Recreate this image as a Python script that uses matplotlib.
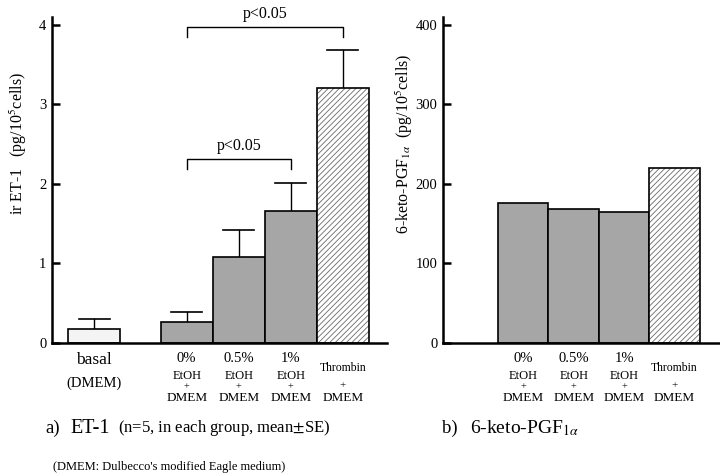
import matplotlib
matplotlib.use("Agg")
import matplotlib.pyplot as plt

plt.rcParams['font.family'] = ['Liberation Serif', 'DejaVu Serif']
plt.rcParams['mathtext.fontset'] = 'stix'
plt.rcParams['hatch.linewidth'] = 0.6

# Data
et1_groups = ["basal", "0%", "0.5%", "1%", "Thrombin"]
et1_mean = [0.18, 0.27, 1.08, 1.66, 3.21]
et1_se = [0.12, 0.12, 0.34, 0.35, 0.48]
pgf_groups = ["0%", "0.5%", "1%", "Thrombin"]
pgf_mean = [176, 168, 165, 220]

et1_pos = [0.81, 2.59, 3.59, 4.59, 5.59]
pgf_pos = [1.59, 2.59, 3.59, 4.59]

W, H = 720, 473
fig = plt.figure(figsize=(7.2, 4.73), dpi=100)

def ax_rect(x0, x1, ytop, ybot):
    return [x0 / W, (H - ybot) / H, (x1 - x0) / W, (ybot - ytop) / H]

ax1 = fig.add_axes(ax_rect(52, 387, 17, 343))
ax2 = fig.add_axes(ax_rect(443, 720, 17, 343))

gray = '#a6a6a6'

def draw_bar(ax, x, h, kind):
    if kind == 'basal':
        ax.bar(x, h, width=1.0, facecolor='#f4f4f4', edgecolor='black', linewidth=1.2, zorder=2)
    elif kind == 'gray':
        ax.bar(x, h, width=1.0, facecolor=gray, edgecolor='black', linewidth=1.2, zorder=2)
    else:
        ax.bar(x, h, width=1.0, facecolor='white', edgecolor='#6a6a6a', hatch='//////', linewidth=0, zorder=2)
        ax.bar(x, h, width=1.0, fill=False, edgecolor='black', linewidth=1.2, zorder=3)

kinds1 = ['basal', 'gray', 'gray', 'gray', 'hatch']
for x, m, s, k in zip(et1_pos, et1_mean, et1_se, kinds1):
    draw_bar(ax1, x, m, k)
    ax1.plot([x, x], [m, m + s], color='black', lw=1.0, zorder=1)
    ax1.plot([x - 0.3, x + 0.3], [m + s, m + s], color='black', lw=1.2, zorder=1)

kinds2 = ['gray', 'gray', 'gray', 'hatch']
for x, m, k in zip(pgf_pos, pgf_mean, kinds2):
    draw_bar(ax2, x, m, k)

for ax in (ax1, ax2):
    for sp in ('top', 'right'):
        ax.spines[sp].set_visible(False)
    ax.spines['left'].set_linewidth(1.8)
    ax.spines['bottom'].set_linewidth(1.8)
    ax.tick_params(axis='y', direction='in', length=6, width=1.8, labelsize=10.5, pad=4)
    ax.tick_params(axis='x', length=0, labelbottom=False)

ax1.set_xlim(0, 6.44)
ax1.set_ylim(0, 4.1)
ax1.set_yticks([0, 1, 2, 3, 4])
ax2.set_xlim(0, 5.49)
ax2.set_ylim(0, 410)
ax2.set_yticks([0, 100, 200, 300, 400])

def ftext(x, y, s, **kw):
    kw.setdefault('ha', 'center')
    kw.setdefault('va', 'center')
    fig.text(x / W, 1 - y / H, s, **kw)

# y labels
ftext(18, 144, r'ir ET-1   (pg/10$^5$cells)', fontsize=11.5, rotation=90)
ftext(404, 144, r'6-keto-PGF$_{1\alpha}$  (pg/10$^5$cells)', fontsize=11.5, rotation=90)

# significance brackets
def bracket(ax, x0, x1, y, drop, text):
    ax.plot([x0, x0, x1, x1], [y - drop, y, y, y - drop], color='black', lw=1.0, clip_on=False)
    ax.text((x0 + x1) / 2, y + 0.07, text, ha='center', va='bottom', fontsize=11.5)

bracket(ax1, et1_pos[1], et1_pos[4], 3.97, 0.12, 'p<0.05')
bracket(ax1, et1_pos[1], et1_pos[3], 2.31, 0.12, 'p<0.05')

# category labels
def label_under(ax, xdata, lines):
    xpix = ax.transData.transform((xdata, 0))[0]
    for (s, y, fs) in lines:
        ftext(xpix, y, s, fontsize=fs)

fig.canvas.draw()
label_under(ax1, et1_pos[0], [("basal", 360, 12.5), ("(DMEM)", 383, 10.5)])
for ax, xs in ((ax1, et1_pos[1:]), (ax2, pgf_pos)):
    for x, g in zip(xs, pgf_groups):
        if g == "Thrombin":
            label_under(ax, x, [("Thrombin", 368, 8.5), ("+", 386, 8), ("DMEM", 398, 9.5)])
        else:
            label_under(ax, x, [(g, 358, 10.5), ("EtOH", 376, 9), ("+", 387, 7.5), ("DMEM", 398, 9.5)])

ftext(45, 428, 'a)', fontsize=13.5, ha='left')
ftext(70, 428, 'ET-1', fontsize=14.5, ha='left')
ftext(118, 428, r'(n=5, in each group, mean$\pm$SE)', fontsize=12, ha='left')
ftext(442, 428, 'b)', fontsize=13.5, ha='left')
ftext(470, 428, r'6-keto-PGF$_{1\alpha}$', fontsize=14, ha='left')
ftext(53, 467, "(DMEM: Dulbecco's modified Eagle medium)", fontsize=9, ha='left')

fig.savefig('out.png', dpi=100)
